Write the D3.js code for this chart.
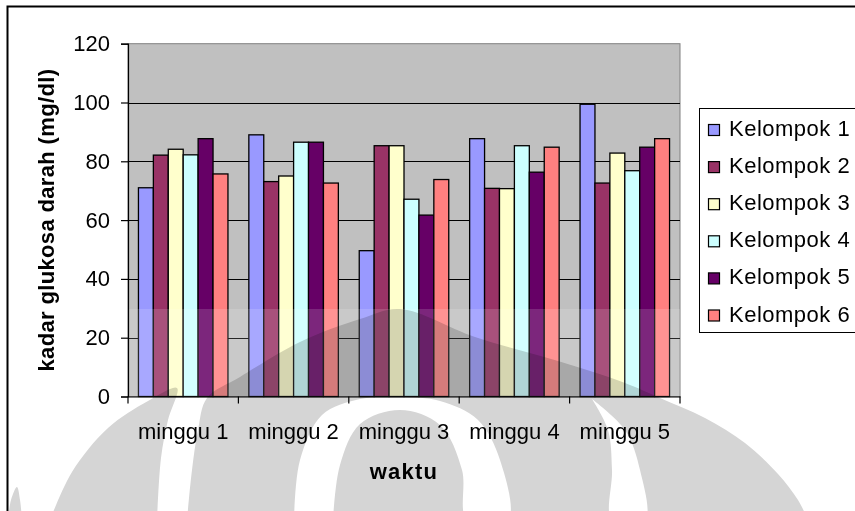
<!DOCTYPE html>
<html>
<head>
<meta charset="utf-8">
<script src="https://cdn.jsdelivr.net/npm/d3@7"></script>
<style>
  html, body { margin: 0; padding: 0; background: #fff; }
  svg { display: block; }
  text { font-family: Arial, "Liberation Sans", sans-serif; fill: #000; }
</style>
</head>
<body>
<svg id="chart" width="855" height="511"></svg>
<script>
// Blood glucose level per group, weeks 1-5
const categories = ["minggu 1", "minggu 2", "minggu 3", "minggu 4", "minggu 5"];
const seriesNames = ["Kelompok 1", "Kelompok 2", "Kelompok 3", "Kelompok 4", "Kelompok 5", "Kelompok 6"];
const kelompok1 = [71, 89, 49.6, 87.7, 99.4];
const kelompok2 = [82.1, 73.1, 85.3, 70.8, 72.6];
const kelompok3 = [84.1, 75, 85.3, 70.7, 82.8];
const kelompok4 = [82.2, 86.5, 67.1, 85.3, 76.8];
const kelompok5 = [87.7, 86.5, 61.7, 76.3, 84.8];
const kelompok6 = [75.7, 72.6, 73.8, 84.8, 87.7];
const seriesColors = ["#9999FF", "#993366", "#FFFFCC", "#CCFFFF", "#660066", "#FF8080"];
const yTicks = [0, 20, 40, 60, 80, 100, 120];
const yTitle = "kadar glukosa darah (mg/dl)";
const xTitle = "waktu";

const seriesValues = [kelompok1, kelompok2, kelompok3, kelompok4, kelompok5, kelompok6];
const rows = categories.map((c, i) => ({
  cat: c,
  vals: seriesNames.map((s, j) => ({ name: s, value: seriesValues[j][i], color: seriesColors[j] }))
}));

const svg = d3.select("#chart");

// outer chart frame
svg.append("rect")
  .attr("x", 7.5).attr("y", 6.5).attr("width", 900).attr("height", 600)
  .attr("fill", "#fff").attr("stroke", "#000").attr("stroke-width", 2);

const plot = { left: 128, right: 680, top: 43.7, bottom: 396.5 };

const x0 = d3.scaleBand().domain(categories).range([plot.left, plot.right]).paddingInner(0).paddingOuter(0);
const x1 = d3.scaleBand().domain(seriesNames).range([0, x0.bandwidth()]).paddingInner(0).paddingOuter(0.7);
const y = d3.scaleLinear().domain([0, 120]).range([plot.bottom, plot.top]);

// plot area background
svg.append("rect")
  .attr("x", plot.left).attr("y", plot.top)
  .attr("width", plot.right - plot.left).attr("height", plot.bottom - plot.top)
  .attr("fill", "#C0C0C0").attr("stroke", "#808080").attr("stroke-width", 1);

// horizontal gridlines
const grid = svg.append("g")
  .attr("transform", `translate(${plot.left},0)`)
  .call(d3.axisLeft(y).tickValues(yTicks.filter(t => t > 0 && t < 120))
    .tickSize(-(plot.right - plot.left)).tickFormat(""));
grid.select(".domain").remove();
grid.selectAll(".tick line").attr("stroke", "#000").attr("stroke-width", 1).attr("shape-rendering", "crispEdges");

// bars
const groups = svg.append("g").selectAll("g").data(rows).join("g")
  .attr("transform", d => `translate(${x0(d.cat)},0)`);
groups.selectAll("rect").data(d => d.vals).join("rect")
  .attr("x", d => x1(d.name))
  .attr("y", d => y(d.value))
  .attr("width", x1.bandwidth())
  .attr("height", d => y(0) - y(d.value))
  .attr("fill", d => d.color)
  .attr("stroke", "#000").attr("stroke-width", 1.3);

// translucent light band across the lower plot area
svg.append("rect")
  .attr("x", plot.left).attr("y", 309).attr("width", plot.right - plot.left).attr("height", plot.bottom - 309)
  .attr("fill", "#fff").attr("opacity", 0.15);

// y axis
const yAxis = svg.append("g")
  .attr("transform", `translate(${plot.left},0)`)
  .call(d3.axisLeft(y).tickValues(yTicks).tickSize(7).tickPadding(11));
yAxis.select(".domain").attr("stroke", "#000").attr("stroke-width", 1.2);
yAxis.selectAll(".tick line").attr("stroke", "#000").attr("stroke-width", 1.2);
yAxis.selectAll(".tick text").attr("font-size", 22).attr("font-family", "Arial, 'Liberation Sans', sans-serif").attr("fill", "#000");

// x axis: labels at category centres, tick marks at category boundaries
const xAxis = svg.append("g")
  .attr("transform", `translate(0,${plot.bottom})`)
  .call(d3.axisBottom(x0).tickSize(0).tickPadding(27));
xAxis.select(".domain").attr("stroke", "#000").attr("stroke-width", 1.2);
xAxis.selectAll(".tick text").attr("font-size", 22).attr("font-family", "Arial, 'Liberation Sans', sans-serif").attr("fill", "#000");
const boundaries = categories.map(c => x0(c)).concat([x0.range()[1]]);
xAxis.selectAll("line.bnd").data(boundaries).join("line")
  .attr("class", "bnd")
  .attr("x1", d => d).attr("x2", d => d)
  .attr("y1", 0).attr("y2", 7)
  .attr("stroke", "#000").attr("stroke-width", 1.2);

// axis titles
svg.append("text")
  .attr("transform", `translate(53.5,${(plot.top + plot.bottom) / 2}) rotate(-90)`)
  .attr("text-anchor", "middle")
  .attr("font-size", 22).attr("font-weight", "bold")
  .attr("letter-spacing", 0.35)
  .text(yTitle);

svg.append("text")
  .attr("x", (plot.left + plot.right) / 2).attr("y", 479)
  .attr("text-anchor", "middle")
  .attr("font-size", 22).attr("font-weight", "bold")
  .attr("letter-spacing", 1.2)
  .text(xTitle);

// legend
const legend = svg.append("g");
legend.append("rect")
  .attr("x", 699.5).attr("y", 108.5).attr("width", 200).attr("height", 224)
  .attr("fill", "#fff").attr("stroke", "#000").attr("stroke-width", 1);
const legendY = d3.scalePoint().domain(seriesNames).range([136, 321.5]);
const items = legend.selectAll("g.item").data(seriesNames).join("g").attr("class", "item")
  .attr("transform", d => `translate(0,${legendY(d)})`);
items.append("rect")
  .attr("x", 708.5).attr("y", -11.5).attr("width", 11).attr("height", 11)
  .attr("fill", (d, i) => seriesColors[i]).attr("stroke", "#000").attr("stroke-width", 1.2);
items.append("text")
  .attr("x", 729).attr("y", 0)
  .attr("font-size", 22).attr("letter-spacing", 0.5)
  .text(d => d);

// page watermark: grey emblem lobes, multiplied over everything
const mark = svg.append("g").style("mix-blend-mode", "multiply");
const curve = d3.line().curve(d3.curveCatmullRom.alpha(0.5));
const grey = "#D5D5D5";
// main emblem body
mark.append("path").attr("fill", grey).attr("d",
  curve([[187, 520], [192, 470], [198, 430], [207, 398], [240, 377], [300, 342], [360, 319], [400, 309],
         [475, 337], [558, 361], [625, 383], [660, 398], [705, 418], [745, 443], [778, 474], [798, 500], [808, 520]]) + "Z");
// left crescent
mark.append("path").attr("fill", grey).attr("d",
  curve([[50, 520], [72, 472], [108, 428], [148, 401], [177, 388], [168, 420], [161, 458], [157, 520]]) + "Z");
// far-left sliver
mark.append("path").attr("fill", grey).attr("d",
  curve([[8, 520], [11, 500], [17, 487], [20, 500], [22, 520]]) + "Z");
// white gaps cut into the body
mark.append("path").attr("fill", "#fff").attr("d",
  curve([[294, 520], [300, 460], [322, 415], [360, 399], [400, 397], [440, 401], [478, 420], [500, 460], [508, 520],
         [467, 520], [462, 470], [440, 425], [400, 410], [360, 424], [340, 465], [333, 520]]) + "Z");
mark.append("path").attr("fill", "#fff").attr("d",
  curve([[592, 399], [608, 430], [612, 470], [612, 520], [645, 520], [640, 470], [625, 430], [592, 399]]) + "Z");
</script>
</body>
</html>
